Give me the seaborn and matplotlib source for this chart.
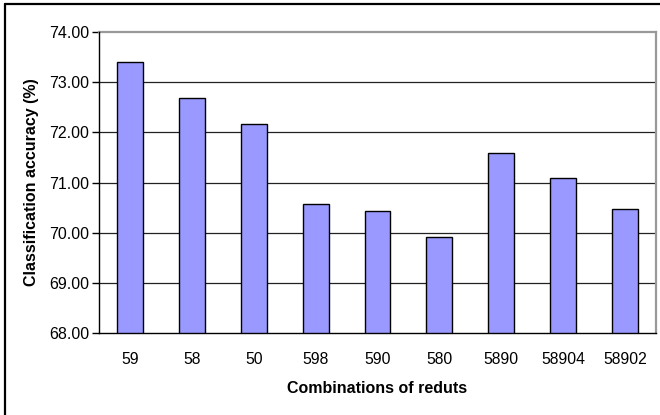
import matplotlib
matplotlib.use("Agg")
import matplotlib.pyplot as plt
from matplotlib.lines import Line2D
import seaborn as sns
import pandas as pd

combinations = ["59", "58", "50", "598", "590", "580", "5890", "58904", "58902"]
accuracy = [73.40, 72.68, 72.16, 70.58, 70.43, 69.92, 71.58, 71.09, 70.47]
y_ticks = [68, 69, 70, 71, 72, 73, 74]

sns.set_theme(style="white", rc={"text.color": "black", "axes.labelcolor": "black",
                                 "xtick.color": "black", "ytick.color": "black"})
plt.rcParams["font.family"] = ["Liberation Sans", "DejaVu Sans"]

df = pd.DataFrame({"combo": combinations, "acc": accuracy})

fig = plt.figure(figsize=(6.6, 4.15), dpi=100)
ax = fig.add_axes([99 / 660, 1 - 333 / 415, (656 - 99) / 660, (333 - 32) / 415])

sns.barplot(data=df, x="combo", y="acc", order=combinations, color="#9999FF",
            saturation=1, width=0.42, edgecolor="black", linewidth=1.0, ax=ax, zorder=3)

ax.set_ylim(68, 74)
ax.set_xlim(-0.5, len(combinations) - 0.5)
ax.set_yticks(y_ticks)
ax.set_yticklabels([f"{v:.2f}" for v in y_ticks], fontsize=11.5)
ax.tick_params(axis="x", which="major", length=0, pad=14, labelsize=11.3)
ax.set_xticks([i - 0.5 for i in range(len(combinations) + 1)], minor=True)
ax.tick_params(axis="x", which="minor", length=5, width=1, color="black", direction="out")
ax.tick_params(axis="y", length=5, width=1, color="black", direction="out", pad=2, left=True)

for v in y_ticks[1:-1]:
    ax.axhline(v, color="#222222", lw=0.9, zorder=1)

ax.spines["left"].set_color("black")
ax.spines["bottom"].set_color("black")
ax.spines["top"].set_color("#999999")
ax.spines["right"].set_color("#999999")
ax.spines["top"].set_linewidth(1.6)
ax.spines["right"].set_linewidth(1.6)
ax.spines["left"].set_linewidth(1.0)
ax.spines["bottom"].set_linewidth(1.0)
ax.spines["left"].set_zorder(4)
ax.spines["bottom"].set_zorder(4)

ax.set_xlabel("Combinations of reduts", fontsize=11.5, fontweight="bold", labelpad=10)
ax.set_ylabel("Classification accuracy (%)", fontsize=11.5, fontweight="bold", labelpad=7)

# chart-area frame along the left and top edges
fig.add_artist(Line2D([4.5 / 660, 4.5 / 660], [0, 1 - 4.5 / 415], color="black", lw=1.6,
                      transform=fig.transFigure))
fig.add_artist(Line2D([4.5 / 660, 1], [1 - 4.5 / 415, 1 - 4.5 / 415], color="black", lw=1.6,
                      transform=fig.transFigure))

fig.savefig("out.png", dpi=100, facecolor="white")
